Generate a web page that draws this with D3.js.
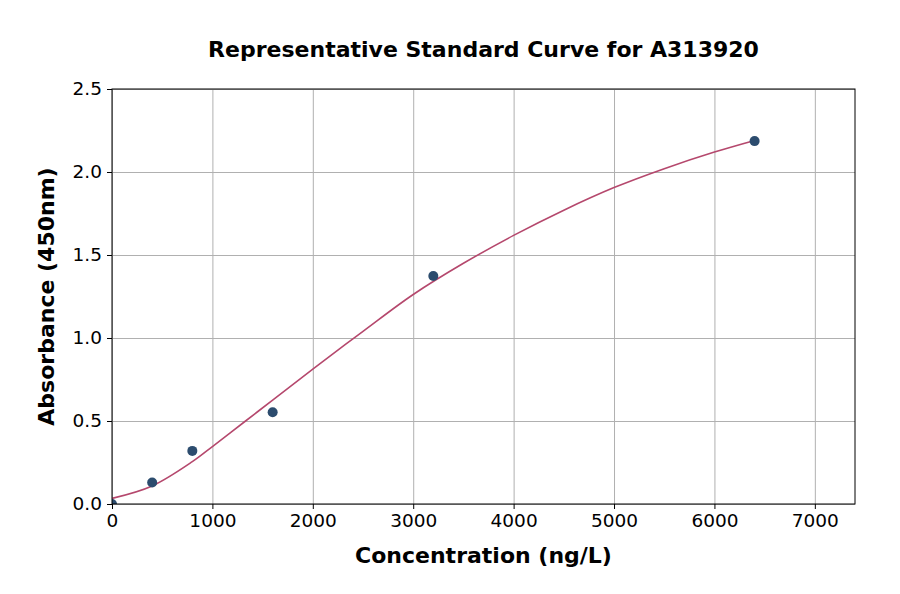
<!DOCTYPE html>
<html>
<head>
<meta charset="utf-8">
<script src="https://cdn.jsdelivr.net/npm/d3@7"></script>
<style>
  body { margin: 0; background: #fff; }
  svg text { font-family: "DejaVu Sans", sans-serif; fill: #000; }
  .grid line { stroke: #b0b0b0; stroke-width: 1; }
  .axis path, .axis line { stroke: #000; stroke-width: 1; }
</style>
</head>
<body>
<svg id="chart" width="900" height="594"></svg>
<script>
// standard points
const concentrations = [0, 400, 800, 1600, 3200, 6400];
const absorbances = [0.0, 0.13, 0.32, 0.553, 1.373, 2.186];

// fitted curve
const curveX = [0, 400, 800, 1000, 1330, 1600, 2000, 2500, 3000, 3500, 4000, 4500, 5000, 5500, 6000, 6400];
const curveY = [0.034, 0.109, 0.255, 0.346, 0.5, 0.626, 0.813, 1.04, 1.262, 1.45, 1.618, 1.77, 1.906, 2.02, 2.12, 2.19];

const xTicks = [0, 1000, 2000, 3000, 4000, 5000, 6000, 7000];
const yTicks = [0.0, 0.5, 1.0, 1.5, 2.0, 2.5];

const margin = { left: 112, right: 45, top: 89, bottom: 90 };
const width = 900 - margin.left - margin.right;
const height = 594 - margin.top - margin.bottom;

function translate(x, y) {
    return `translate(${x}, ${y})`;
}

const svg = d3.select('#chart');
svg.append('defs').append('clipPath')
    .attr('id', 'plot-clip')
    .append('rect')
    .attr('width', width)
    .attr('height', height);

const chart = svg.append('g').attr('transform', translate(margin.left, margin.top));

const xScale = d3.scaleLinear().domain([0, 7400]).range([0, width]);
const yScale = d3.scaleLinear().domain([0, 2.5]).range([height, 0]);

// grid
chart.append('g')
    .attr('class', 'grid')
    .attr('transform', translate(0, height))
    .call(d3.axisBottom(xScale).tickValues(xTicks).tickSize(-height).tickFormat(''))
    .call(g => g.select('.domain').remove());
chart.append('g')
    .attr('class', 'grid')
    .call(d3.axisLeft(yScale).tickValues(yTicks).tickSize(-width).tickFormat(''))
    .call(g => g.select('.domain').remove());

const plot = chart.append('g').attr('clip-path', 'url(#plot-clip)');

// curve
const line = d3.line()
    .x(d => xScale(d[0]))
    .y(d => yScale(d[1]))
    .curve(d3.curveCatmullRom.alpha(0.5));
plot.append('path')
    .datum(curveX.map((x, i) => [x, curveY[i]]))
    .attr('d', line)
    .attr('fill', 'none')
    .attr('stroke', '#b5486d')
    .attr('stroke-width', 1.6);

// points
plot.selectAll('.pt')
    .data(concentrations)
    .enter()
    .append('circle')
    .attr('class', 'pt')
    .attr('cx', d => xScale(d))
    .attr('cy', (d, i) => yScale(absorbances[i]))
    .attr('r', 5)
    .attr('fill', '#2c4c6e');

// frame
chart.append('rect')
    .attr('width', width)
    .attr('height', height)
    .attr('fill', 'none')
    .attr('stroke', '#000')
    .attr('stroke-width', 1);

// axes
chart.append('g')
    .attr('class', 'axis')
    .attr('transform', translate(0, height))
    .call(d3.axisBottom(xScale).tickValues(xTicks).tickSize(5).tickPadding(5).tickFormat(d3.format('d')))
    .call(g => g.select('.domain').remove())
    .selectAll('text')
    .attr('font-size', 18.5)
    .attr('font-family', '"DejaVu Sans", sans-serif');
chart.append('g')
    .attr('class', 'axis')
    .call(d3.axisLeft(yScale).tickValues(yTicks).tickSize(5).tickPadding(5).tickFormat(d3.format('.1f')))
    .call(g => g.select('.domain').remove())
    .selectAll('text')
    .attr('font-size', 18.5)
    .attr('font-family', '"DejaVu Sans", sans-serif');

// labels
svg.append('text')
    .attr('x', margin.left + width / 2)
    .attr('y', 57)
    .attr('text-anchor', 'middle')
    .attr('font-size', 22)
    .attr('font-weight', 'bold')
    .text('Representative Standard Curve for A313920');
svg.append('text')
    .attr('x', margin.left + width / 2)
    .attr('y', 563)
    .attr('text-anchor', 'middle')
    .attr('font-size', 22)
    .attr('font-weight', 'bold')
    .text('Concentration (ng/L)');
svg.append('text')
    .attr('transform', translate(54, margin.top + height / 2) + ' rotate(-90)')
    .attr('text-anchor', 'middle')
    .attr('font-size', 22)
    .attr('font-weight', 'bold')
    .text('Absorbance (450nm)');
</script>
</body>
</html>
